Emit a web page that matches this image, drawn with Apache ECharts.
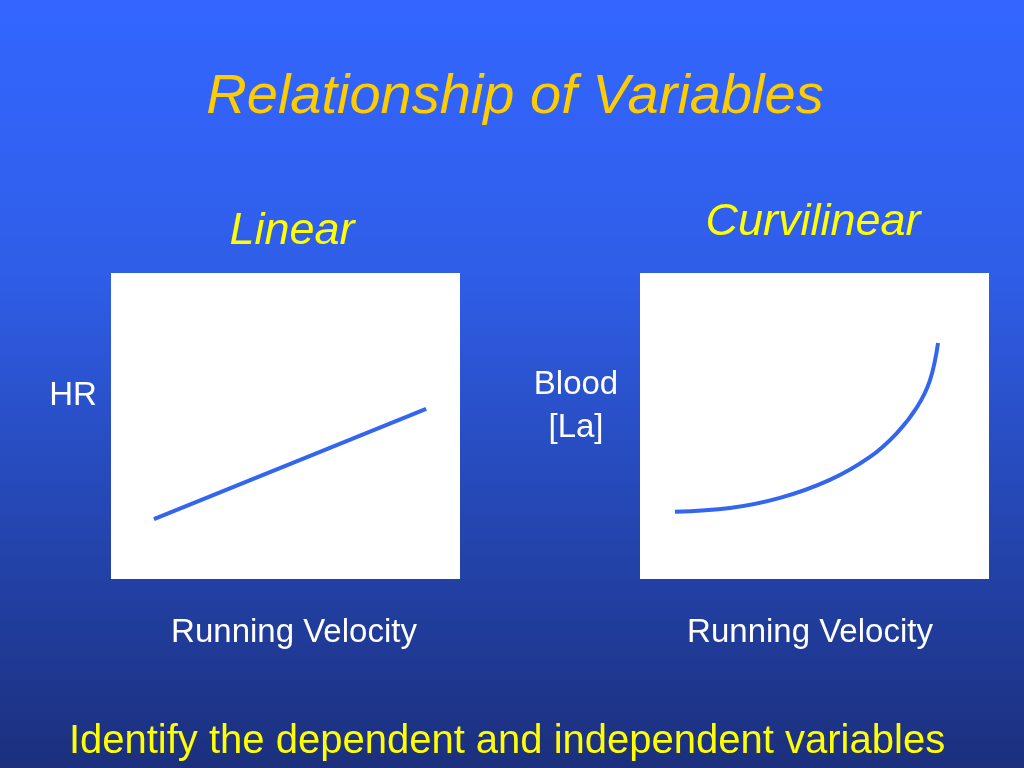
<!DOCTYPE html>
<html>
<head>
<meta charset="utf-8">
<script src="https://cdn.jsdelivr.net/npm/echarts@6/dist/echarts.min.js"></script>
<style>
html,body{margin:0;padding:0;width:1024px;height:768px;overflow:hidden;}
#c{width:1024px;height:768px;}
</style>
</head>
<body>
<div id="c"></div>
<script>
var titleText = 'Relationship of Variables';
var panelTitles = ['Linear', 'Curvilinear'];
var yLabels = ['HR', 'Blood\n[La]'];
var xLabels = ['Running Velocity', 'Running Velocity'];
var footerText = 'Identify the dependent and independent variables';

var linearX = [12.3, 90.3];
var linearY = [19.6, 55.6];

var curveX = [10.0, 25.8, 40.1, 54.4, 65.9, 73.6, 79.4, 83.1, 85.4];
var curveY = [22.0, 23.2, 26.5, 32.4, 39.9, 47.7, 56.2, 65.0, 77.1];

function pairs(xs, ys){ return xs.map(function(x,i){ return [x, ys[i]]; }); }

var chart = echarts.init(document.getElementById('c'));
var FAM = 'Liberation Sans';
function axis(idx){
  return {type:'value', gridIndex:idx, min:0, max:100, show:false};
}
function txt(x, y, s, color, size, italic, extra){
  var st = {text:s, fill:color, fontFamily:FAM, fontSize:size, fontStyle: italic ? 'italic' : 'normal',
            align:'center', verticalAlign:'middle'};
  if (extra) for (var k in extra) st[k] = extra[k];
  return {type:'text', x:x, y:y, style:st};
}
chart.setOption({
  backgroundColor: {
    type:'linear', x:0, y:0, x2:0, y2:1,
    colorStops:[{offset:0,color:'#3366ff'},{offset:0.35,color:'#2f5ee8'},{offset:1,color:'#1b2f7c'}]
  },
  animation:false,
  grid:[
    {left:111, top:273, width:349, height:306, show:true, backgroundColor:'#ffffff', borderWidth:0},
    {left:640, top:273, width:349, height:306, show:true, backgroundColor:'#ffffff', borderWidth:0}
  ],
  xAxis:[axis(0), axis(1)],
  yAxis:[axis(0), axis(1)],
  series:[
    {type:'line', xAxisIndex:0, yAxisIndex:0, data:pairs(linearX, linearY), showSymbol:false,
     lineStyle:{color:'#3366ee', width:4, cap:'butt'}},
    {type:'line', xAxisIndex:1, yAxisIndex:1, data:pairs(curveX, curveY), showSymbol:false, smooth:0.4,
     lineStyle:{color:'#3366ee', width:4, cap:'butt'}}
  ],
  graphic:[
    txt(515, 97, titleText, '#ffcc00', 56, true),
    txt(292, 231, panelTitles[0], '#ffff00', 45, true),
    txt(813, 222, panelTitles[1], '#ffff00', 45, true),
    txt(73, 396, yLabels[0], '#ffffff', 33, false),
    txt(576, 406, yLabels[1], '#ffffff', 33, false, {lineHeight:43}),
    txt(294, 633, xLabels[0], '#ffffff', 33, false),
    txt(810, 633, xLabels[1], '#ffffff', 33, false),
    txt(507, 742, footerText, '#ffff00', 40, false)
  ]
});
</script>
</body>
</html>
